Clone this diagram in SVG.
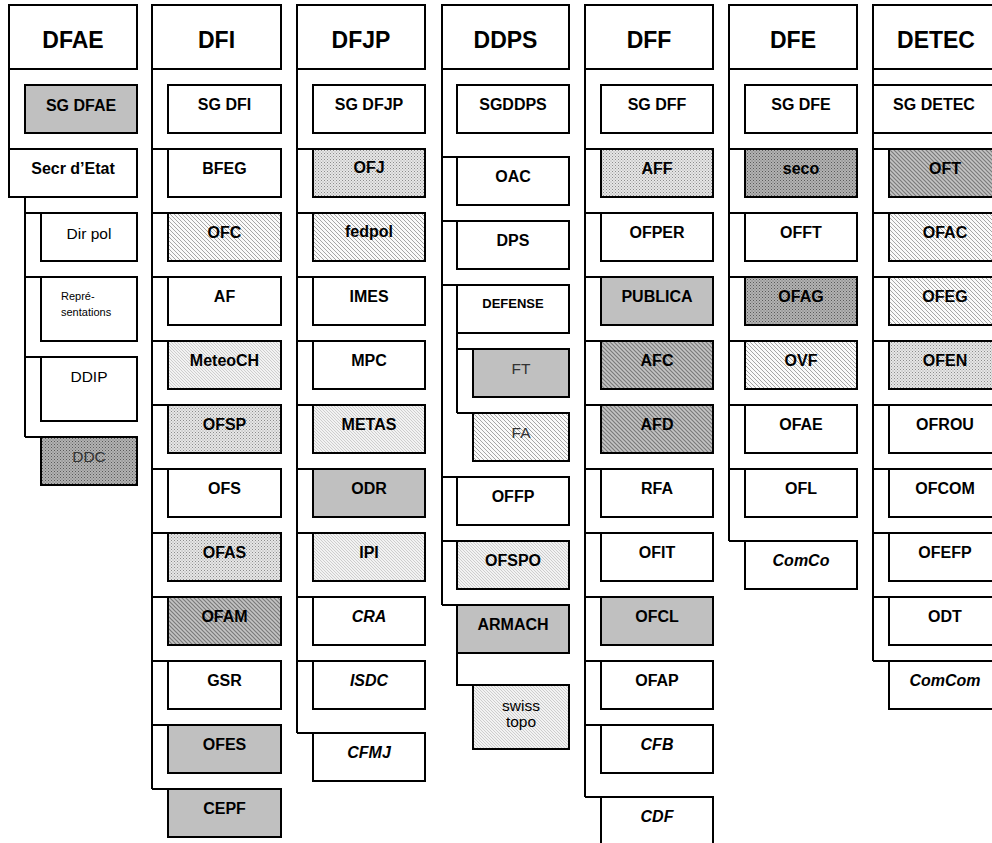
<svg xmlns="http://www.w3.org/2000/svg" width="992" height="843" viewBox="0 0 992 843">
<defs>
<pattern id="dotL" width="3" height="3" patternUnits="userSpaceOnUse"><rect width="3" height="3" fill="#e6e6e6"/><rect x="0" y="0" width="1" height="1" fill="#8c8c8c"/><rect x="1.5" y="1.5" width="1" height="1" fill="#a0a0a0"/></pattern>
<pattern id="dotD" width="3" height="3" patternUnits="userSpaceOnUse"><rect width="3" height="3" fill="#b2b2b2"/><rect x="0" y="0" width="1" height="1" fill="#5a5a5a"/><rect x="1.5" y="1.5" width="1" height="1" fill="#707070"/></pattern>
<pattern id="hatchL" width="4" height="4" patternUnits="userSpaceOnUse"><rect width="4" height="4" fill="#fafafa"/><path d="M-1,-1 L5,5 M-1,3 L1,5 M3,-1 L5,1" stroke="#a6a6a6" stroke-width="1"/></pattern>
<pattern id="hatchF" width="3" height="3" patternUnits="userSpaceOnUse"><rect width="3" height="3" fill="#f2f2f2"/><path d="M-1,-1 L4,4 M-1,2 L1,4 M2,-1 L4,1" stroke="#c4c4c4" stroke-width="0.8"/></pattern>
<pattern id="hatchD" width="4" height="4" patternUnits="userSpaceOnUse"><rect width="4" height="4" fill="#c4c4c4"/><path d="M-1,-1 L5,5 M-1,3 L1,5 M3,-1 L5,1" stroke="#7a7a7a" stroke-width="1.2"/></pattern>
</defs>
<style>
.box{stroke:#000;stroke-width:2}
.w{fill:#fff}.g{fill:#c0c0c0}.dl{fill:url(#dotL)}.dd{fill:url(#dotD)}.hl{fill:url(#hatchL)}.hf{fill:url(#hatchF)}.hd{fill:url(#hatchD)}
text{font-family:"Liberation Sans",Arial,sans-serif;fill:#000;text-anchor:middle}
.h{font-size:23px;font-weight:bold}
.b{font-size:16px;font-weight:bold}
.i{font-size:16px;font-weight:bold;font-style:italic}
.r{font-size:15.5px;fill:#000}
.rg{font-size:15.5px;fill:#333}
.s{font-size:11px;fill:#000;text-anchor:start}
.d{font-size:13px;font-weight:bold}
.con{stroke:#000;stroke-width:2;fill:none}
</style>
<rect width="992" height="843" fill="#fff"/>
<g id="connectors" class="con">
<path d="M9,69 V149"/>
<path d="M25,197 V437 M25,213 H41 M25,277 H41 M25,357 H41 M25,437 H41"/>
<path d="M152,69 V789 M152,149 H168 M152,213 H168 M152,277 H168 M152,341 H168 M152,405 H168 M152,469 H168 M152,533 H168 M152,597 H168 M152,661 H168 M152,725 H168 M152,789 H168"/>
<path d="M297,69 V733 M297,149 H313 M297,213 H313 M297,277 H313 M297,341 H313 M297,405 H313 M297,469 H313 M297,533 H313 M297,597 H313 M297,661 H313 M297,733 H313"/>
<path d="M442,69 V605 M442,157 H457 M442,221 H457 M442,285 H457 M442,477 H457 M442,541 H457 M442,605 H457"/>
<path d="M457,333 V413 M457,349 H473 M457,413 H473"/>
<path d="M457,653 V685 H473"/>
<path d="M585,69 V797 M585,149 H601 M585,213 H601 M585,277 H601 M585,341 H601 M585,405 H601 M585,469 H601 M585,533 H601 M585,597 H601 M585,661 H601 M585,725 H601 M585,797 H601"/>
<path d="M729,69 V541 M729,149 H745 M729,213 H745 M729,277 H745 M729,341 H745 M729,405 H745 M729,469 H745 M729,541 H745"/>
<path d="M873,69 V661 M873,149 H889 M873,213 H889 M873,277 H889 M873,341 H889 M873,405 H889 M873,469 H889 M873,533 H889 M873,597 H889 M873,661 H889"/>
</g>
<g id="DFAE"><rect class="box w" x="9" y="5" width="128" height="64"/><text class="h" x="73" y="48">DFAE</text></g>
<g id="SG_DFAE"><rect class="box g" x="25" y="85" width="112" height="48"/><text class="b" x="81" y="111">SG DFAE</text></g>
<g id="Secr_Etat"><rect class="box w" x="9" y="149" width="128" height="48"/><text class="b" x="73" y="174">Secr d’Etat</text></g>
<g id="Dir_pol"><rect class="box w" x="41" y="213" width="96" height="48"/><text class="r" x="89" y="239">Dir pol</text></g>
<g id="Representations"><rect class="box w" x="41" y="277" width="96" height="64"/><text class="s" x="61" y="300">Repré-</text><text class="s" x="61" y="316">sentations</text></g>
<g id="DDIP"><rect class="box w" x="41" y="357" width="96" height="64"/><text class="r" x="89" y="382">DDIP</text></g>
<g id="DDC"><rect class="box dd" x="41" y="437" width="96" height="48"/><text class="rg" x="89" y="462">DDC</text></g>

<g id="DFI"><rect class="box w" x="152" y="5" width="129" height="64"/><text class="h" x="216.5" y="48">DFI</text></g>
<g id="SG_DFI"><rect class="box w" x="168" y="85" width="113" height="48"/><text class="b" x="224.5" y="110">SG DFI</text></g>
<g id="BFEG"><rect class="box w" x="168" y="149" width="113" height="48"/><text class="b" x="224.5" y="174">BFEG</text></g>
<g id="OFC"><rect class="box hl" x="168" y="213" width="113" height="48"/><text class="b" x="224.5" y="238">OFC</text></g>
<g id="AF"><rect class="box w" x="168" y="277" width="113" height="48"/><text class="b" x="224.5" y="302">AF</text></g>
<g id="MeteoCH"><rect class="box hf" x="168" y="341" width="113" height="48"/><text class="b" x="224.5" y="366">MeteoCH</text></g>
<g id="OFSP"><rect class="box dl" x="168" y="405" width="113" height="48"/><text class="b" x="224.5" y="430">OFSP</text></g>
<g id="OFS"><rect class="box w" x="168" y="469" width="113" height="48"/><text class="b" x="224.5" y="494">OFS</text></g>
<g id="OFAS"><rect class="box dl" x="168" y="533" width="113" height="48"/><text class="b" x="224.5" y="558">OFAS</text></g>
<g id="OFAM"><rect class="box hd" x="168" y="597" width="113" height="48"/><text class="b" x="224.5" y="622">OFAM</text></g>
<g id="GSR"><rect class="box w" x="168" y="661" width="113" height="48"/><text class="b" x="224.5" y="686">GSR</text></g>
<g id="OFES"><rect class="box g" x="168" y="725" width="113" height="48"/><text class="b" x="224.5" y="750">OFES</text></g>
<g id="CEPF"><rect class="box g" x="168" y="789" width="113" height="48"/><text class="b" x="224.5" y="814">CEPF</text></g>

<g id="DFJP"><rect class="box w" x="297" y="5" width="128" height="64"/><text class="h" x="361" y="48">DFJP</text></g>
<g id="SG_DFJP"><rect class="box w" x="313" y="85" width="112" height="48"/><text class="b" x="369" y="110">SG DFJP</text></g>
<g id="OFJ"><rect class="box dl" x="313" y="149" width="112" height="48"/><text class="b" x="369" y="173">OFJ</text></g>
<g id="fedpol"><rect class="box hl" x="313" y="213" width="112" height="48"/><text class="b" x="369" y="237">fedpol</text></g>
<g id="IMES"><rect class="box w" x="313" y="277" width="112" height="48"/><text class="b" x="369" y="302">IMES</text></g>
<g id="MPC"><rect class="box w" x="313" y="341" width="112" height="48"/><text class="b" x="369" y="366">MPC</text></g>
<g id="METAS"><rect class="box hf" x="313" y="405" width="112" height="48"/><text class="b" x="369" y="430">METAS</text></g>
<g id="ODR"><rect class="box g" x="313" y="469" width="112" height="48"/><text class="b" x="369" y="494">ODR</text></g>
<g id="IPI"><rect class="box hf" x="313" y="533" width="112" height="48"/><text class="b" x="369" y="558">IPI</text></g>
<g id="CRA"><rect class="box w" x="313" y="597" width="112" height="48"/><text class="i" x="369" y="622">CRA</text></g>
<g id="ISDC"><rect class="box w" x="313" y="661" width="112" height="48"/><text class="i" x="369" y="686">ISDC</text></g>
<g id="CFMJ"><rect class="box w" x="313" y="733" width="112" height="48"/><text class="i" x="369" y="758">CFMJ</text></g>

<g id="DDPS"><rect class="box w" x="442" y="5" width="127" height="64"/><text class="h" x="505.5" y="48">DDPS</text></g>
<g id="SGDDPS"><rect class="box w" x="457" y="85" width="112" height="48"/><text class="b" x="513" y="110">SGDDPS</text></g>
<g id="OAC"><rect class="box w" x="457" y="157" width="112" height="48"/><text class="b" x="513" y="182">OAC</text></g>
<g id="DPS"><rect class="box w" x="457" y="221" width="112" height="48"/><text class="b" x="513" y="246">DPS</text></g>
<g id="DEFENSE"><rect class="box w" x="457" y="285" width="112" height="48"/><text class="d" x="513" y="308">DEFENSE</text></g>
<g id="FT"><rect class="box g" x="473" y="349" width="96" height="48"/><text class="rg" x="521" y="374">FT</text></g>
<g id="FA"><rect class="box hl" x="473" y="413" width="96" height="48"/><text class="rg" x="521" y="438">FA</text></g>
<g id="OFFP"><rect class="box w" x="457" y="477" width="112" height="48"/><text class="b" x="513" y="502">OFFP</text></g>
<g id="OFSPO"><rect class="box hf" x="457" y="541" width="112" height="48"/><text class="b" x="513" y="566">OFSPO</text></g>
<g id="ARMACH"><rect class="box g" x="457" y="605" width="112" height="48"/><text class="b" x="513" y="630">ARMACH</text></g>
<g id="swisstopo"><rect class="box hf" x="473" y="685" width="96" height="64"/><text class="r" x="521" y="711">swiss</text><text class="r" x="521" y="727">topo</text></g>

<g id="DFF"><rect class="box w" x="585" y="5" width="128" height="64"/><text class="h" x="649" y="48">DFF</text></g>
<g id="SG_DFF"><rect class="box w" x="601" y="85" width="112" height="48"/><text class="b" x="657" y="110">SG DFF</text></g>
<g id="AFF"><rect class="box dl" x="601" y="149" width="112" height="48"/><text class="b" x="657" y="174">AFF</text></g>
<g id="OFPER"><rect class="box w" x="601" y="213" width="112" height="48"/><text class="b" x="657" y="238">OFPER</text></g>
<g id="PUBLICA"><rect class="box g" x="601" y="277" width="112" height="48"/><text class="b" x="657" y="302">PUBLICA</text></g>
<g id="AFC"><rect class="box hd" x="601" y="341" width="112" height="48"/><text class="b" x="657" y="366">AFC</text></g>
<g id="AFD"><rect class="box hd" x="601" y="405" width="112" height="48"/><text class="b" x="657" y="430">AFD</text></g>
<g id="RFA"><rect class="box w" x="601" y="469" width="112" height="48"/><text class="b" x="657" y="494">RFA</text></g>
<g id="OFIT"><rect class="box w" x="601" y="533" width="112" height="48"/><text class="b" x="657" y="558">OFIT</text></g>
<g id="OFCL"><rect class="box g" x="601" y="597" width="112" height="48"/><text class="b" x="657" y="622">OFCL</text></g>
<g id="OFAP"><rect class="box w" x="601" y="661" width="112" height="48"/><text class="b" x="657" y="686">OFAP</text></g>
<g id="CFB"><rect class="box w" x="601" y="725" width="112" height="48"/><text class="i" x="657" y="750">CFB</text></g>
<g id="CDF"><rect class="box w" x="601" y="797" width="112" height="48"/><text class="i" x="657" y="822">CDF</text></g>

<g id="DFE"><rect class="box w" x="729" y="5" width="128" height="64"/><text class="h" x="793" y="48">DFE</text></g>
<g id="SG_DFE"><rect class="box w" x="745" y="85" width="112" height="48"/><text class="b" x="801" y="110">SG DFE</text></g>
<g id="seco"><rect class="box dd" x="745" y="149" width="112" height="48"/><text class="b" x="801" y="174">seco</text></g>
<g id="OFFT"><rect class="box w" x="745" y="213" width="112" height="48"/><text class="b" x="801" y="238">OFFT</text></g>
<g id="OFAG"><rect class="box dd" x="745" y="277" width="112" height="48"/><text class="b" x="801" y="302">OFAG</text></g>
<g id="OVF"><rect class="box hl" x="745" y="341" width="112" height="48"/><text class="b" x="801" y="366">OVF</text></g>
<g id="OFAE"><rect class="box w" x="745" y="405" width="112" height="48"/><text class="b" x="801" y="430">OFAE</text></g>
<g id="OFL"><rect class="box w" x="745" y="469" width="112" height="48"/><text class="b" x="801" y="494">OFL</text></g>
<g id="ComCo"><rect class="box w" x="745" y="541" width="112" height="48"/><text class="i" x="801" y="566">ComCo</text></g>

<g id="DETEC"><rect class="box w" x="873" y="5" width="128" height="64"/><text class="h" x="936" y="48">DETEC</text></g>
<g id="SG_DETEC"><rect class="box w" x="873" y="85" width="128" height="48"/><text class="b" x="934" y="110">SG DETEC</text></g>
<g id="OFT"><rect class="box hd" x="889" y="149" width="112" height="48"/><text class="b" x="945" y="174">OFT</text></g>
<g id="OFAC"><rect class="box hl" x="889" y="213" width="112" height="48"/><text class="b" x="945" y="238">OFAC</text></g>
<g id="OFEG"><rect class="box hl" x="889" y="277" width="112" height="48"/><text class="b" x="945" y="302">OFEG</text></g>
<g id="OFEN"><rect class="box dl" x="889" y="341" width="112" height="48"/><text class="b" x="945" y="366">OFEN</text></g>
<g id="OFROU"><rect class="box w" x="889" y="405" width="112" height="48"/><text class="b" x="945" y="430">OFROU</text></g>
<g id="OFCOM"><rect class="box w" x="889" y="469" width="112" height="48"/><text class="b" x="945" y="494">OFCOM</text></g>
<g id="OFEFP"><rect class="box w" x="889" y="533" width="112" height="48"/><text class="b" x="945" y="558">OFEFP</text></g>
<g id="ODT"><rect class="box w" x="889" y="597" width="112" height="48"/><text class="b" x="945" y="622">ODT</text></g>
<g id="ComCom"><rect class="box w" x="889" y="661" width="112" height="48"/><text class="i" x="945" y="686">ComCom</text></g>
</svg>
